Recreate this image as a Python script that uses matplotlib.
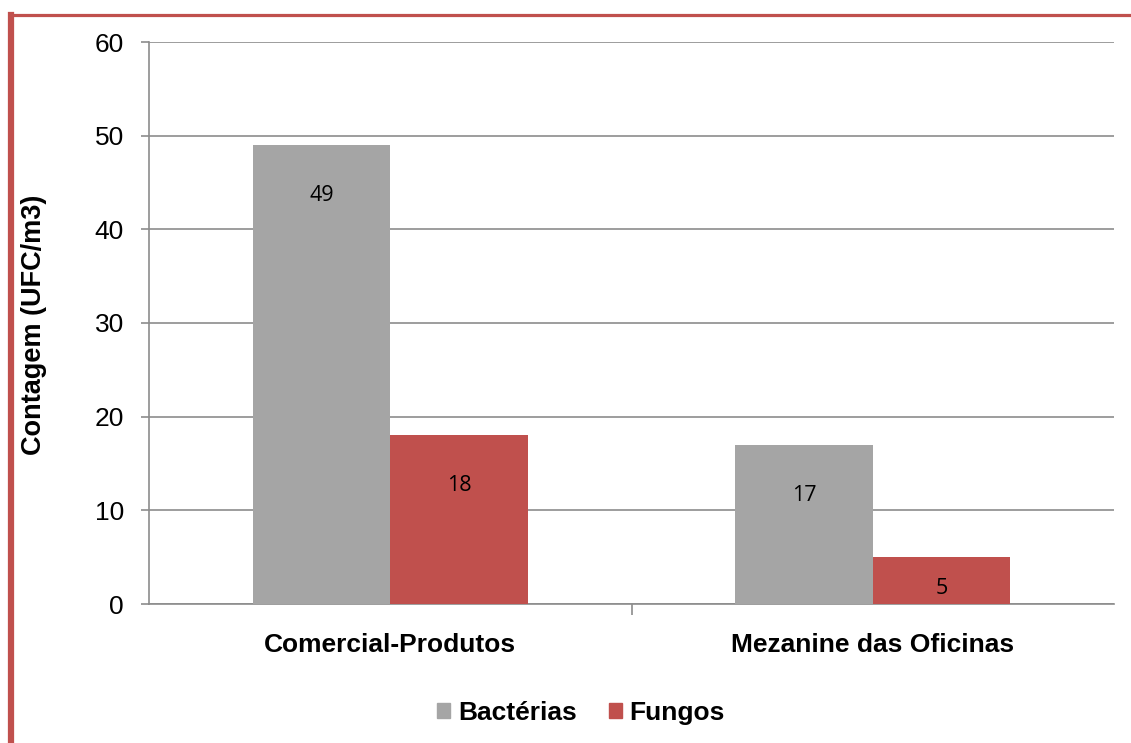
import matplotlib
matplotlib.use("Agg")
import matplotlib.pyplot as plt
import numpy as np
from matplotlib.patches import Rectangle
from matplotlib.lines import Line2D

categories = ["Comercial-Produtos", "Mezanine das Oficinas"]
series_names = ["Bactérias", "Fungos"]
bacterias = [49, 17]
fungos = [18, 5]
colors = ["#a5a5a5", "#c0504d"]
y_ticks = [0, 10, 20, 30, 40, 50, 60]

plt.rcParams["font.family"] = ["Liberation Sans", "DejaVu Sans"]

fig = plt.figure(figsize=(11.31, 7.43), dpi=100)
W, H = 1131, 743

# plot area in pixel coordinates
x0, x1 = 149, 1114
y_top, y_bot = 42, 604
ax = fig.add_axes([x0 / W, 1 - y_bot / H, (x1 - x0) / W, (y_bot - y_top) / H])

n = len(categories)
bw = 0.285
xs = np.arange(n)
for i, (vals, name, col) in enumerate(zip([bacterias, fungos], series_names, colors)):
    offs = (i - 0.5) * bw
    bars = ax.bar(xs + offs, vals, width=bw, color=col, align="center", zorder=3)
    for b, v in zip(bars, vals):
        # value label inside the bar, near its top, kept within the bar
        ly = max(v - 5.4, 1.7)
        ax.text(b.get_x() + b.get_width() / 2, ly, f"{v}", ha="center",
                va="center", fontsize=15.5, family=["Open Sans", "DejaVu Sans"],
                color="#000000", zorder=4)

ax.set_xlim(-0.5, n - 0.5)
ax.set_ylim(0, 60)
ax.set_yticks(y_ticks)
ax.set_yticklabels([str(t) for t in y_ticks], fontsize=19)
ax.yaxis.grid(True, color="#8c8c8c", linewidth=1.2, zorder=0)
ax.set_axisbelow(True)

for s in ["top", "right"]:
    ax.spines[s].set_visible(False)
for s in ["left", "bottom"]:
    ax.spines[s].set_color("#8c8c8c")
    ax.spines[s].set_linewidth(1.2)

ax.set_xticks([0.5])
ax.set_xticklabels([""])
ax.tick_params(axis="x", direction="out", length=8, color="#8c8c8c", width=1.2)
ax.tick_params(axis="y", direction="out", length=6, color="#8c8c8c", width=1.2, pad=12)

for i, c in enumerate(categories):
    ax.text(i, -4.4, c, ha="center", va="center", fontsize=19, fontweight="bold",
            transform=ax.transData)

fig.text(34 / W, 1 - 325 / H, "Contagem (UFC/m3)", rotation=90, ha="center",
         va="center", fontsize=19.5, fontweight="bold")

# legend
handles = [Rectangle((0, 0), 1, 1, color=c) for c in colors]
leg = fig.legend(handles, series_names, loc="center", bbox_to_anchor=(581 / W, 1 - 713 / H),
                 ncol=2, frameon=False, prop={"weight": "bold", "size": 19},
                 handlelength=0.5, handleheight=0.5, handletextpad=0.3,
                 columnspacing=1.2)

# outer chart border (red)
border_col = "#c0504d"
fig.add_artist(Line2D([11 / W, 11 / W], [0, 1 - 14.5 / H], color=border_col, lw=4.5,
                      transform=fig.transFigure, solid_capstyle="projecting"))
fig.add_artist(Line2D([11 / W, 1.0], [1 - 14.5 / H, 1 - 14.5 / H], color=border_col, lw=2.3,
                      transform=fig.transFigure, solid_capstyle="butt"))

fig.savefig("out.png", dpi=100)
